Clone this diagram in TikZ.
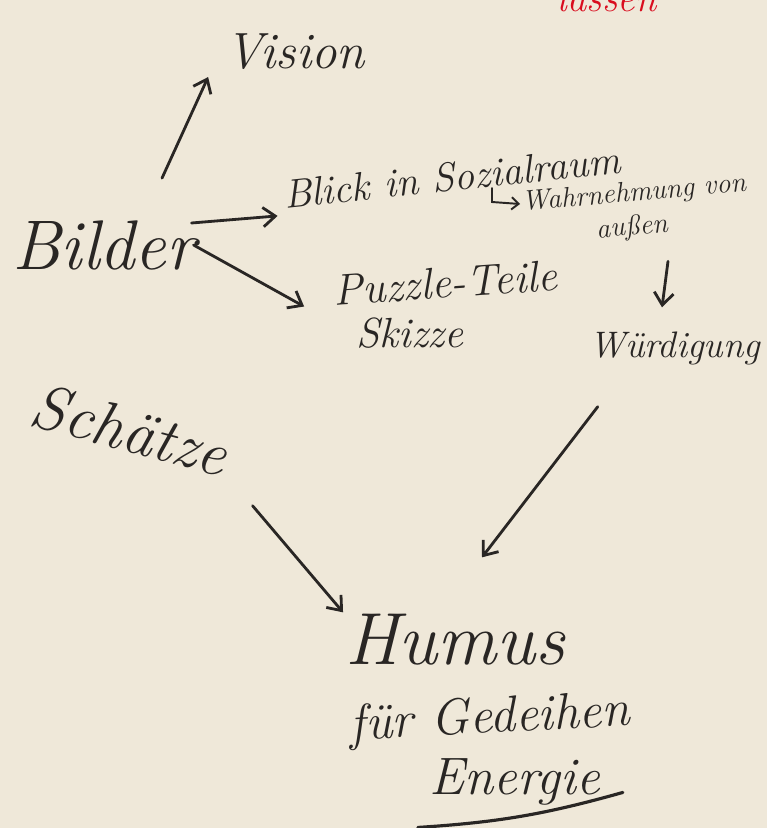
\documentclass[tikz,border=0pt]{standalone}
\usepackage{xcolor}
\usepackage{tikz}
\usetikzlibrary{arrows.meta,calc}
\definecolor{color_paper}{rgb}{0.937,0.910,0.851}
\definecolor{color_ink}{rgb}{0.16,0.15,0.14}
\definecolor{color_red}{rgb}{0.85,0.05,0.12}

\tikzset{
	word/.style={inner sep=1pt, text=color_ink, font=\itshape},
	pen/.style={color_ink, line width=1.6pt, line cap=round, -{Straight Barb[length=7pt, width=11pt, line width=1.6pt]}}
}

\begin{document}
\begin{tikzpicture}[x=0.02cm, y=-0.02cm]
			% Papier
			\fill[color_paper] (0,0) rectangle (767,828);
			\useasboundingbox (0,0) rectangle (767,828);
			
			% Mots
			\node[word, text=color_red] (lassen) at (607,-2) {\fontsize{22}{24}\selectfont lassen};
			\node[word] (vision) at (295,52) {\fontsize{29}{32}\selectfont Vision};
			\node[word] (bilder) at (104,245) {\fontsize{40}{44}\selectfont Bilder};
			\node[word, rotate=6] (blick) at (452,177) {\fontsize{23}{25}\selectfont Blick in Sozialraum};
			\node[word, rotate=5, anchor=west] (wahr) at (520,204) {\fontsize{16}{18}\selectfont Wahrnehmung von};
			\node[word, rotate=5] (aussen) at (632,228) {\fontsize{16}{18}\selectfont außen};
			\node[word] (wuerd) at (675,348) {\fontsize{21}{23}\selectfont Würdigung};
			\node[word, rotate=4] (puzzle) at (445,283) {\fontsize{25}{27}\selectfont Puzzle-Teile};
			\node[word] (skizze) at (410,333) {\fontsize{24}{26}\selectfont Skizze};
			\node[word, rotate=-15] (schaetze) at (130,430) {\fontsize{36}{40}\selectfont Schätze};
			\node[word] (humus) at (455,640) {\fontsize{42}{46}\selectfont Humus};
			\node[word, rotate=3] (gedeihen) at (490,720) {\fontsize{29}{32}\selectfont für Gedeihen};
			\node[word] (energie) at (515,782) {\fontsize{30}{33}\selectfont Energie};
			
			% Pfeile
			\draw[pen] ($(bilder.north)+(58,-40)$) coordinate (v0) -- ($(vision.south west)+(-15,5)$);
			\draw[pen] ($(bilder.east)+(-6,-22)$) coordinate (b0) -- ($(blick.west)+(-4,21)$);
			\draw[pen] ($(bilder.east)+(-4,0)$) coordinate (b1) -- ($(puzzle.south west)+(-28,-2)$);
			\draw[pen] ($(wuerd.north)+(-7,-68)$) coordinate (a0) -- ($(wuerd.north)+(-13,-22)$);
			\draw[pen] ($(wuerd.south west)+(10,40)$) coordinate (w0) -- ($(humus.north)+(27,-55)$);
			\draw[pen] ($(schaetze.south east)+(30,25)$) coordinate (s0) -- (humus.north west);
			
			% kleiner Haken vor Wahrnehmung
			\draw[color_ink, line width=1.1pt, line cap=round, -{Straight Barb[length=4pt, width=7pt, line width=1.1pt]}]
				($(wahr.west)+(-28,-16)$) coordinate (h0) -- ++(0,14) coordinate (h1) -- (wahr.west);
			
			% Unterstrich
			\draw[color_ink, line width=1.8pt, line cap=round] ($(energie.south west)+(-10,20)$) coordinate (u0) to[bend right=6] ++(205,-35) coordinate (u1);
		\end{tikzpicture}
\end{document}
